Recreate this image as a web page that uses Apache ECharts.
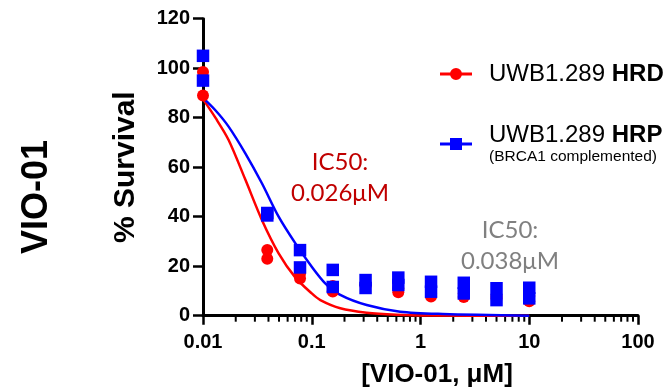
<!DOCTYPE html>
<html>
<head>
<meta charset="utf-8">
<script src="https://cdn.jsdelivr.net/npm/echarts@6/dist/echarts.min.js"></script>
<style>
html,body{margin:0;padding:0;background:#fff;}
#c{width:664px;height:387px;}
</style>
</head>
<body>
<div id="c"></div>
<script>
// ---- data ----
const doses = [0.01, 0.039, 0.078, 0.156, 0.3125, 0.625, 1.25, 2.5, 5, 10];
const hrdRepA = [98.5, 26.5, 17, 12, 12.5, 11, 9, 9, 8, 8];
const hrdRepB = [89, 23, 15, 9.8, 12, 9.5, 7.8, 7.6, 7, 5.8];
const hrpRepA = [105, 41.5, 26.5, 18.5, 14.4, 15.4, 13.7, 13.3, 11.1, 11.3];
const hrpRepB = [95, 40.5, 19.5, 11.6, 11.2, 12.4, 9.7, 9.0, 6.3, 7.0];

const hrdFitX = [0.01, 0.013, 0.0172, 0.0245, 0.0348, 0.0496, 0.0705, 0.1, 0.12, 0.183, 0.32, 0.6, 1.2, 10];
const hrdFitY = [87.5, 80, 71, 55, 38.7, 25.2, 15.5, 9.0, 6.3, 3.0, 1.2, 0.4, 0.1, 0];
const hrpFitX = [0.01, 0.013, 0.0172, 0.0245, 0.0348, 0.0496, 0.0705, 0.1, 0.133, 0.183, 0.32, 0.65, 1.6, 10];
const hrpFitY = [88, 83, 76.4, 65.6, 53.5, 40, 29.3, 19.8, 13.1, 8.4, 4.3, 1.6, 0.7, 0];

const xTickLabels = ['0.01', '0.1', '1', '10', '100'];
const xMinorTicks = [0.02,0.03,0.04,0.05,0.06,0.07,0.08,0.09,
                     0.2,0.3,0.4,0.5,0.6,0.7,0.8,0.9,
                     2,3,4,5,6,7,8,9,
                     20,30,40,50,60,70,80,90];

const hrdName = 'UWB1.289 HRD';
const hrpName = 'UWB1.289 HRP';
const hrdIC50 = ['IC50:', '0.026\u03bcM'];
const hrpIC50 = ['IC50:', '0.038\u03bcM'];

// ---- build ----
function pairs(xs, ys){ return xs.map((x,i)=>[x, ys[i]]); }
const RED = '#ff0000', BLUE = '#0000ff';
const AR = '"Liberation Sans", Arial, sans-serif';

const chart = echarts.init(document.getElementById('c'));
chart.setOption({
  backgroundColor: '#fff',
  animation: false,
  grid: { left: 203, right: 26, top: 18.7, bottom: 71.3, containLabel: false, outerBoundsMode: 'none' },
  xAxis: {
    type: 'log', logBase: 10, min: 0.01, max: 100,
    name: '[VIO-01, \u03bcM]', nameLocation: 'middle', nameGap: 46,
    nameTextStyle: { fontFamily: AR, fontWeight: 'bold', fontSize: 26, color: '#000', padding: [0,0,0,33] },
    axisLine: { show: true, onZero: false, lineStyle: { color: '#000', width: 3 } },
    axisTick: { show: true, length: 9, lineStyle: { color: '#000', width: 2.5 } },
    axisLabel: {
      margin: 17, fontFamily: AR, fontWeight: 'bold', fontSize: 20, color: '#000',
      formatter: v => xTickLabels[Math.round(Math.log10(v)) + 2]
    },
    splitLine: { show: false }
  },
  yAxis: {
    type: 'value', min: 0, max: 120, interval: 20,
    name: '% Survival', nameLocation: 'middle', nameGap: 62, nameRotate: 90,
    nameTextStyle: { fontFamily: AR, fontWeight: 'bold', fontSize: 30, color: '#000' },
    axisLine: { show: true, lineStyle: { color: '#000', width: 3 } },
    axisTick: { show: true, length: 10, lineStyle: { color: '#000', width: 2.5 } },
    axisLabel: { margin: 13, fontFamily: AR, fontWeight: 'bold', fontSize: 20, color: '#000' },
    splitLine: { show: false }
  },
  legend: {
    orient: 'vertical', left: 440, top: 62, padding: 0, itemGap: 37,
    itemWidth: 32, itemHeight: 12, selectedMode: false,
    textStyle: {
      padding: [0,0,0,12], color: '#000',
      rich: {
        a: { fontFamily: AR, fontSize: 24, color: '#000', lineHeight: 26 },
        b: { fontFamily: AR, fontSize: 24, fontWeight: 'bold', color: '#000', lineHeight: 26 },
        c: { fontFamily: AR, fontSize: 15.5, color: '#000', lineHeight: 18 }
      }
    },
    formatter: function(name){
      if (name === hrdName) return '{a|UWB1.289 }{b|HRD}';
      return '{a|UWB1.289 }{b|HRP}\n{c|(BRCA1 complemented)}';
    },
    data: [
      { name: hrdName, icon: 'path://M0,4.5L32,4.5L32,7.5L0,7.5Z M10,6 A6,6 0 1 1 22,6 A6,6 0 1 1 10,6 Z' },
      { name: hrpName, icon: 'path://M0,4.5L32,4.5L32,7.5L0,7.5Z M10,0L22,0L22,12L10,12Z' }
    ]
  },
  graphic: [
    { type: 'text', x: 37, y: 197, rotation: Math.PI/2,
      style: { text: 'VIO-01', fontFamily: AR, fontWeight: 'bold', fontSize: 36, fill: '#000', align: 'center', verticalAlign: 'middle' } },
    { type: 'text', x: 340, y: 162,
      style: { text: hrdIC50[0], fontFamily: 'Lato', fontSize: 24, fill: '#c00000', align: 'center', verticalAlign: 'middle' } },
    { type: 'text', x: 340, y: 193,
      style: { text: hrdIC50[1], fontFamily: 'Lato', fontSize: 24, fill: '#c00000', align: 'center', verticalAlign: 'middle' } },
    { type: 'text', x: 510, y: 230,
      style: { text: hrpIC50[0], fontFamily: 'Lato', fontSize: 24, fill: '#808080', align: 'center', verticalAlign: 'middle' } },
    { type: 'text', x: 510, y: 261.5,
      style: { text: hrpIC50[1], fontFamily: 'Lato', fontSize: 24, fill: '#808080', align: 'center', verticalAlign: 'middle' } }
  ],
  series: [
    {
      type: 'custom', name: 'minor', silent: true, clip: false, z: 1,
      data: xMinorTicks.map(v => [v, 0]),
      renderItem: function(params, api){
        const p = api.coord([api.value(0), 0]);
        return { type: 'line', shape: { x1: p[0], y1: p[1], x2: p[0], y2: p[1] + 6 },
                 style: { stroke: '#000', lineWidth: 2 } };
      }
    },
    { type: 'line', name: 'hrdFit', data: pairs(hrdFitX, hrdFitY), smooth: 0.3, showSymbol: false,
      lineStyle: { color: RED, width: 2.5 }, itemStyle: { color: RED }, z: 3, silent: true },
    { type: 'line', name: 'hrpFit', data: pairs(hrpFitX, hrpFitY), smooth: 0.3, showSymbol: false,
      lineStyle: { color: BLUE, width: 2.5 }, itemStyle: { color: BLUE }, z: 3, silent: true },
    { type: 'scatter', name: hrdName, symbol: 'circle', symbolSize: 12,
      data: pairs(doses, hrdRepA).concat(pairs(doses, hrdRepB)),
      itemStyle: { color: RED, opacity: 1 }, z: 4 },
    { type: 'scatter', name: hrpName, symbol: 'rect', symbolSize: 12.5,
      data: pairs(doses, hrpRepA).concat(pairs(doses, hrpRepB)),
      itemStyle: { color: BLUE, opacity: 1 }, z: 5 }
  ]
});
</script>
</body>
</html>
